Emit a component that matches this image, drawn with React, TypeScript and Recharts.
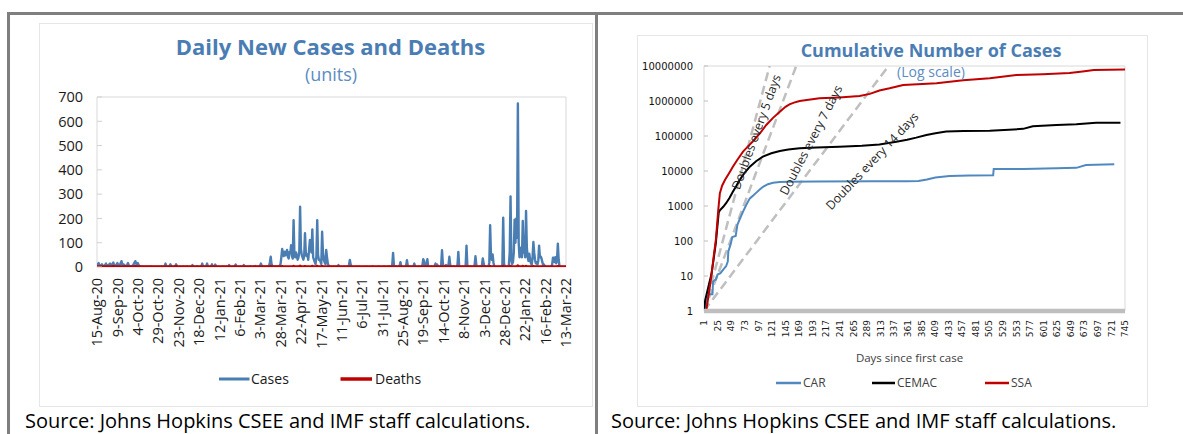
import React from 'react';
import { LineChart, Line, XAxis, YAxis, ReferenceArea } from 'recharts';

// ---------- Left chart: daily new cases and deaths (day 0 = 15-Aug-20) ----------
const dateTicks = ['15-Aug-20', '9-Sep-20', '4-Oct-20', '29-Oct-20', '23-Nov-20', '18-Dec-20', '12-Jan-21', '6-Feb-21', '3-Mar-21', '28-Mar-21', '22-Apr-21', '17-May-21', '11-Jun-21', '6-Jul-21', '31-Jul-21', '25-Aug-21', '19-Sep-21', '14-Oct-21', '8-Nov-21', '3-Dec-21', '28-Dec-21', '22-Jan-22', '16-Feb-22', '13-Mar-22'];
const dateTickDays = [0, 25, 50, 75, 100, 125, 150, 175, 200, 225, 250, 275, 300, 325, 350, 375, 400, 425, 450, 475, 500, 525, 550, 575];
const caseTicks = [0, 100, 200, 300, 400, 500, 600, 700];

const dailyCases = [
  5, 10, 16, 8, 4, 6, 11, 5, 3, 6, 9, 14, 6, 4, 8, 10, 14, 7, 5, 12, 18, 8, 4, 6, 10,
  16, 8, 4, 9, 15, 24, 12, 6, 10, 5, 3, 6, 9, 16, 7, 3, 2, 4, 3, 6, 12, 18, 24, 14, 8,
  16, 9, 4, 2, 1, 0, 2, 0, 1, 0, 0, 2, 0, 1, 0, 0, 3, 0, 1, 0, 0, 2, 0, 0, 1,
  0, 1, 0, 0, 2, 0, 0, 1, 3, 14, 4, 0, 0, 2, 5, 11, 3, 0, 0, 1, 0, 4, 11, 3, 0,
  0, 0, 1, 0, 0, 0, 3, 0, 0, 0, 1, 2, 0, 0, 0, 0, 2, 8, 2, 0, 0, 0, 1, 3, 0,
  0, 0, 1, 4, 14, 3, 0, 0, 1, 5, 14, 3, 0, 0, 1, 4, 11, 2, 0, 0, 10, 2, 0, 0, 1,
  0, 0, 0, 1, 0, 2, 0, 0, 0, 1, 0, 0, 8, 2, 0, 0, 0, 1, 0, 3, 10, 2, 0, 0, 0,
  0, 1, 0, 0, 0, 8, 2, 0, 0, 0, 1, 0, 0, 3, 0, 0, 0, 1, 0, 4, 0, 0, 0, 1, 3,
  5, 14, 4, 0, 1, 2, 0, 0, 1, 3, 0, 5, 20, 42, 12, 4, 2, 0, 1, 3, 0, 1, 2, 0, 6,
  12, 40, 74, 55, 45, 63, 48, 58, 70, 42, 35, 62, 58, 90, 45, 35, 193, 55, 40, 60, 45, 30, 40, 62, 248,
  75, 50, 40, 30, 45, 139, 60, 45, 50, 30, 70, 111, 75, 60, 155, 40, 30, 20, 12, 45, 193, 50, 30, 30, 22,
  12, 145, 60, 30, 20, 12, 70, 40, 15, 5, 2, 0, 1, 0, 0, 2, 0, 0, 1, 0, 2, 8, 2, 0, 0,
  0, 0, 0, 2, 0, 0, 1, 0, 0, 10, 29, 10, 2, 0, 0, 0, 0, 0, 1, 0, 0, 0, 2, 0, 0,
  0, 0, 0, 0, 0, 2, 0, 0, 0, 0, 0, 0, 0, 3, 0, 0, 0, 0, 0, 0, 2, 0, 0, 0, 0,
  0, 0, 2, 0, 0, 0, 0, 0, 3, 0, 0, 0, 10, 58, 8, 0, 0, 2, 0, 0, 0, 5, 20, 4, 0,
  0, 0, 0, 0, 6, 28, 5, 0, 0, 2, 0, 0, 0, 4, 14, 3, 0, 0, 0, 0, 2, 0, 0, 0, 8,
  32, 25, 6, 0, 10, 32, 5, 0, 0, 0, 2, 0, 0, 0, 6, 14, 4, 10, 2, 0, 0, 0, 10, 69, 15,
  0, 3, 0, 8, 2, 0, 10, 42, 10, 0, 0, 0, 3, 0, 0, 0, 0, 10, 62, 5, 0, 0, 0, 2, 0,
  0, 0, 8, 88, 10, 0, 0, 0, 3, 0, 0, 0, 0, 10, 44, 10, 0, 0, 0, 2, 0, 0, 8, 35, 15,
  0, 3, 0, 0, 0, 0, 20, 172, 50, 30, 52, 20, 3, 0, 0, 0, 0, 0, 0, 0, 0, 0, 10, 203, 15,
  0, 0, 0, 0, 0, 10, 60, 291, 30, 12, 20, 60, 195, 100, 200, 120, 673, 100, 40, 60, 80, 40, 190, 60, 70,
  40, 231, 80, 40, 25, 55, 30, 15, 10, 40, 103, 60, 30, 15, 20, 10, 25, 88, 40, 43, 35, 20, 8, 10, 3,
  0, 0, 0, 0, 0, 0, 0, 2, 10, 38, 38, 20, 40, 15, 30, 96, 30, 2, 0, 0, 0, 0, 0, 0, 0,
  0,
];

const dailyDeaths = [
  0, 0, 0, 0, 0, 0, 0, 0, 0, 0, 0, 0, 0, 0, 0, 0, 0, 0, 0, 0, 1, 0, 0, 0, 0,
  0, 0, 0, 0, 0, 0, 0, 0, 0, 0, 0, 0, 0, 0, 0, 0, 0, 0, 0, 0, 0, 0, 1, 0, 0,
  0, 0, 0, 0, 0, 0, 0, 0, 0, 0, 0, 0, 0, 0, 0, 0, 0, 0, 0, 0, 0, 0, 0, 0, 0,
  0, 0, 0, 0, 0, 0, 0, 0, 0, 0, 0, 0, 0, 0, 0, 0, 0, 0, 0, 0, 0, 0, 1, 0, 0,
  0, 0, 0, 0, 0, 0, 0, 0, 0, 0, 0, 0, 0, 0, 0, 0, 0, 0, 0, 0, 0, 0, 0, 0, 0,
  0, 0, 0, 0, 0, 0, 0, 0, 0, 0, 0, 0, 0, 0, 0, 0, 0, 0, 0, 0, 0, 0, 0, 0, 0,
  0, 0, 0, 0, 0, 0, 0, 0, 0, 0, 0, 0, 0, 0, 0, 0, 0, 0, 0, 0, 0, 0, 0, 0, 0,
  0, 0, 0, 0, 0, 0, 0, 0, 0, 0, 0, 0, 0, 0, 0, 0, 0, 0, 0, 0, 0, 0, 0, 0, 0,
  0, 0, 0, 0, 0, 0, 0, 0, 0, 0, 0, 0, 0, 1, 0, 0, 0, 0, 0, 0, 0, 0, 0, 0, 0,
  0, 0, 1, 0, 0, 0, 0, 0, 0, 0, 0, 0, 0, 0, 0, 0, 2, 0, 0, 0, 0, 0, 0, 0, 3,
  0, 0, 0, 0, 0, 1, 0, 0, 0, 0, 0, 0, 0, 0, 2, 0, 0, 0, 0, 0, 2, 0, 0, 0, 0,
  0, 1, 0, 0, 0, 0, 0, 0, 0, 0, 0, 0, 0, 0, 0, 0, 0, 0, 0, 0, 0, 0, 0, 0, 0,
  0, 0, 0, 0, 0, 0, 0, 0, 0, 0, 0, 0, 0, 0, 0, 0, 0, 0, 0, 0, 0, 0, 0, 0, 0,
  0, 0, 0, 0, 0, 0, 0, 0, 0, 0, 0, 0, 0, 0, 0, 0, 0, 0, 0, 0, 0, 0, 0, 0, 0,
  0, 0, 0, 0, 0, 0, 0, 0, 0, 0, 0, 0, 0, 0, 0, 0, 0, 0, 0, 0, 0, 0, 0, 0, 0,
  0, 0, 0, 0, 0, 0, 0, 0, 0, 0, 0, 0, 0, 0, 0, 0, 0, 0, 0, 0, 0, 0, 0, 0, 0,
  0, 0, 0, 0, 0, 0, 0, 0, 0, 0, 0, 0, 0, 0, 0, 0, 0, 0, 0, 0, 0, 0, 0, 0, 0,
  0, 0, 0, 0, 0, 0, 0, 0, 0, 0, 0, 0, 0, 0, 0, 0, 0, 0, 0, 0, 0, 0, 0, 0, 0,
  0, 0, 0, 0, 0, 0, 0, 0, 0, 0, 0, 0, 0, 0, 0, 0, 0, 0, 0, 0, 0, 0, 0, 0, 0,
  0, 0, 0, 0, 0, 0, 0, 1, 0, 0, 0, 0, 0, 0, 0, 0, 0, 0, 0, 0, 0, 0, 0, 2, 0,
  0, 0, 0, 0, 0, 0, 0, 2, 0, 0, 0, 0, 0, 0, 0, 0, 4, 0, 0, 0, 0, 0, 2, 0, 0,
  0, 2, 0, 0, 0, 0, 0, 0, 0, 0, 1, 0, 0, 0, 0, 0, 0, 0, 0, 0, 0, 0, 0, 0, 0,
  0, 0, 0, 0, 0, 0, 0, 0, 0, 0, 0, 0, 0, 0, 0, 1, 0, 0, 0, 0, 0, 0, 0, 0, 0,
  0,
];

// ---------- Right chart: cumulative cases (log scale), days since first case ----------
const dayTicks = [1, 25, 49, 73, 97, 121, 145, 169, 193, 217, 241, 265, 289, 313, 337, 361, 385, 409, 433, 457, 481, 505, 529, 553, 577, 601, 625, 649, 673, 697, 721, 745];
const logTicks = [1, 10, 100, 1000, 10000, 100000, 1000000, 10000000];

const carDay = [1, 9, 16, 17, 22, 25, 30, 36, 40, 43, 44, 48, 51, 57, 60, 65, 70, 76, 82, 88, 94, 100, 106, 114, 123, 135, 150, 200, 300, 360, 380, 395, 410, 435, 470, 512, 513, 565, 624, 659, 676, 726];
const carCases = [1, 3, 3, 7, 8, 11, 12, 16, 19, 26, 50, 80, 130, 140, 290, 450, 690, 1100, 1650, 2000, 2450, 3000, 3600, 4200, 4630, 4850, 4970, 5000, 5100, 5100, 5150, 5700, 6500, 7200, 7400, 7500, 11400, 11400, 11900, 12300, 14800, 15500];

const cemacDay = [1, 3, 10, 14, 18, 22, 24, 27, 29, 35, 40, 46, 52, 58, 64, 72, 82, 93, 105, 120, 135, 150, 170, 200, 240, 280, 311, 341, 360, 376, 394, 410, 429, 460, 506, 540, 565, 582, 624, 659, 694, 737];
const cemacCases = [1, 2, 6, 11, 30, 90, 200, 650, 750, 950, 1200, 1700, 2560, 3700, 5500, 8500, 13300, 19000, 25700, 32000, 37300, 41000, 44500, 47000, 49500, 53000, 57500, 69000, 78000, 89700, 107000, 120000, 135000, 138000, 141000, 150000, 160000, 190000, 206000, 216000, 238000, 240000];

const ssaDay = [5, 14, 18, 22, 26, 29, 33, 38, 45, 52, 60, 70, 80, 88, 100, 111, 123, 135, 145, 152, 160, 170, 205, 240, 276, 294, 311, 329, 353, 412, 459, 506, 553, 600, 647, 670, 690, 745];
const ssaCases = [1, 10, 35, 110, 700, 2300, 3800, 5500, 8500, 13300, 21000, 35700, 53000, 72000, 120000, 206000, 330000, 493000, 680000, 800000, 900000, 1000000, 1200000, 1250000, 1400000, 1600000, 2000000, 2300000, 2870000, 3200000, 3900000, 4500000, 5500000, 5850000, 6300000, 7000000, 7700000, 8000000];

// Doubling reference lines: start at 1 on day 1, reach the top of the axis
const double5Day = [1, 117];
const double7Day = [1, 164];
const double14Day = [1, 327];
const doubleValues = [1, 10000000];

const leftData = dailyCases.map((c, i) => ({ day: i, cases: c, deaths: dailyDeaths[i] }));
const toSeries = (days: number[], vals: number[]) => days.map((d, i) => ({ day: d, v: vals[i] }));
const carData = toSeries(carDay, carCases);
const cemacData = toSeries(cemacDay, cemacCases);
const ssaData = toSeries(ssaDay, ssaCases);
const d5Data = toSeries(double5Day, doubleValues);
const d7Data = toSeries(double7Day, doubleValues);
const d14Data = toSeries(double14Day, doubleValues);

const FONT = "'Open Sans', sans-serif";
const TITLE_BLUE = '#4a7db4';
const SUB_BLUE = '#5b8cc3';
const CASES_BLUE = '#4a7eb3';
const CAR_BLUE = '#5089bf';
const RED = '#c00000';

const LeftXTick = (props: any) => {
  const { x, y, payload } = props;
  const idx = dateTickDays.indexOf(payload.value);
  return (
    <text x={x} y={y} transform={`rotate(-90 ${x} ${y})`} textAnchor="end" dy="0.36em" fontSize={14.5} fontFamily={FONT} fill="#1a1a1a">
      {dateTicks[idx]}
    </text>
  );
};

const LeftYTick = (props: any) => {
  const { x, y, payload } = props;
  return (
    <g>
      <line x1={x + 14} x2={x + 19} y1={y} y2={y} stroke="#d0d0d0" strokeWidth={1} />
      <text x={x} y={y} textAnchor="end" dy="0.36em" fontSize={14.5} fontFamily={FONT} fill="#1a1a1a">
        {payload.value}
      </text>
    </g>
  );
};

const RightXTick = (props: any) => {
  const { x, y, payload } = props;
  return (
    <text x={x} y={y} transform={`rotate(-90 ${x} ${y})`} textAnchor="end" dy="0.36em" fontSize={9} fontFamily="'DejaVu Sans', sans-serif" fill="#1a1a1a">
      {payload.value}
    </text>
  );
};

const RightYTick = (props: any) => {
  const { x, y, payload } = props;
  return (
    <g>
      <line x1={x + 11} x2={x + 15} y1={y} y2={y} stroke="#bfbfbf" strokeWidth={1} />
      <text x={x} y={y} textAnchor="end" dy="0.36em" fontSize={10} fontFamily="'DejaVu Sans', sans-serif" fill="#111">
        {String(payload.value)}
      </text>
    </g>
  );
};

const abs = (l: number, t: number, w: number, h: number, extra: React.CSSProperties = {}): React.CSSProperties => ({
  position: 'absolute', left: l, top: t, width: w, height: h, ...extra,
});

export default function App() {
  return (
    <div style={{ position: 'absolute', left: 0, top: 0, width: 1183, height: 434, background: '#fff', overflow: 'hidden', fontFamily: FONT }}>
      {/* frame */}
      <div style={abs(7, 12, 1176, 3, { background: '#7f7f7f' })} />
      <div style={abs(7, 12, 3, 422, { background: '#7f7f7f' })} />
      <div style={abs(595, 12, 3, 422, { background: '#7f7f7f' })} />
      <div style={abs(39, 23, 554, 384, { border: '1px solid #e6e6e6', boxSizing: 'border-box' })} />
      <div style={abs(637, 35, 511, 372, { border: '1px solid #e6e6e6', boxSizing: 'border-box' })} />

      {/* left chart */}
      <div style={abs(0, 0, 600, 434)}>
        <LineChart width={600} height={434} data={leftData} margin={{ top: 97, right: 34, bottom: 87, left: 57 }}>
          <XAxis dataKey="day" type="number" domain={[0, 575]} ticks={dateTickDays} interval={0} allowDataOverflow
            axisLine={false} tickLine={false} tickSize={0} tickMargin={11} height={80} tick={<LeftXTick />} />
          <YAxis type="number" domain={[0, 700]} ticks={caseTicks} interval={0} allowDataOverflow
            axisLine={false} tickLine={false} tickSize={0} tickMargin={14} width={40} tick={<LeftYTick />} />
          <ReferenceArea x1={0} x2={575} y1={0} y2={700} fill="none" stroke="#d9d9d9" strokeWidth={1} ifOverflow="visible" />
          <Line dataKey="cases" type="linear" stroke={CASES_BLUE} strokeWidth={2.4} dot={false} activeDot={false} isAnimationActive={false} strokeLinejoin="round" />
          <Line dataKey="deaths" type="linear" stroke={RED} strokeWidth={3.5} dot={false} activeDot={false} isAnimationActive={false} strokeLinejoin="round" />
        </LineChart>
      </div>

      {/* right chart */}
      <div style={abs(600, 0, 560, 434)}>
        <LineChart width={560} height={434} margin={{ top: 66, right: 35, bottom: 83, left: 44 }}>
          <XAxis dataKey="day" type="number" domain={[1, 745]} ticks={dayTicks} interval={0} allowDataOverflow
            axisLine={{ stroke: '#bfbfbf', strokeWidth: 4.5 }} tickLine={false} tickSize={0} tickMargin={9} height={40} tick={<RightXTick />} />
          <YAxis type="number" scale="log" domain={[1, 10000000]} ticks={logTicks} interval={0} allowDataOverflow
            axisLine={false} tickLine={false} tickSize={0} tickMargin={11} width={60} tick={<RightYTick />} />
          <ReferenceArea x1={1} x2={745} y1={1} y2={10000000} fill="none" stroke="#d9d9d9" strokeWidth={1} ifOverflow="visible" />
          <Line data={d5Data} dataKey="v" type="linear" stroke="#bfbfbf" strokeWidth={2.5} strokeDasharray="9 5" dot={false} activeDot={false} isAnimationActive={false} />
          <Line data={d7Data} dataKey="v" type="linear" stroke="#bfbfbf" strokeWidth={2.5} strokeDasharray="9 5" dot={false} activeDot={false} isAnimationActive={false} />
          <Line data={d14Data} dataKey="v" type="linear" stroke="#bfbfbf" strokeWidth={2.5} strokeDasharray="9 5" dot={false} activeDot={false} isAnimationActive={false} />
          <Line data={carData} dataKey="v" type="linear" stroke={CAR_BLUE} strokeWidth={2} dot={false} activeDot={false} isAnimationActive={false} />
          <Line data={cemacData} dataKey="v" type="linear" stroke="#000" strokeWidth={2} dot={false} activeDot={false} isAnimationActive={false} />
          <Line data={ssaData} dataKey="v" type="linear" stroke={RED} strokeWidth={2} dot={false} activeDot={false} isAnimationActive={false} />
        </LineChart>
      </div>

      {/* texts */}
      <svg width={1183} height={434} style={{ position: 'absolute', left: 0, top: 0, pointerEvents: 'none' }} fontFamily={FONT}>
        <text x={330.5} y={55} textAnchor="middle" fontSize={22} fontWeight="bold" fill={TITLE_BLUE}>Daily New Cases and Deaths</text>
        <text x={331} y={81} textAnchor="middle" fontSize={18} fill={SUB_BLUE}>(units)</text>

        <line x1={219} x2={249.5} y1={379} y2={379} stroke={CASES_BLUE} strokeWidth={3} />
        <text x={251} y={384} fontSize={14} fill="#1a1a1a">Cases</text>
        <line x1={340.5} x2={372} y1={379} y2={379} stroke={RED} strokeWidth={3.5} />
        <text x={375} y={384} fontSize={14} fill="#1a1a1a">Deaths</text>

        <text x={25} y={428} fontSize={20} fill="#000">Source: Johns Hopkins CSEE and IMF staff calculations.</text>

        <text x={931} y={57} textAnchor="middle" fontSize={18} fontWeight="bold" fill={TITLE_BLUE}>Cumulative Number of Cases</text>
        <text x={931} y={77} textAnchor="middle" fontSize={14} fill={SUB_BLUE}>(Log scale)</text>

        <text x={756} y={132} transform="rotate(-70 756 132)" textAnchor="middle" dy="0.36em" fontSize={12.3} fill="#262626">Doubles every 5 days</text>
        <text x={811} y={140} transform="rotate(-62.7 811 140)" textAnchor="middle" dy="0.36em" fontSize={12.3} fill="#262626">Doubles every 7 days</text>
        <text x={872} y={161} transform="rotate(-46.7 872 161)" textAnchor="middle" dy="0.36em" fontSize={12.3} fill="#262626">Doubles every 14 days</text>

        <text x={909.5} y={362} textAnchor="middle" fontSize={11.5} fill="#404040">Days since first case</text>

        <line x1={776} x2={801} y1={383} y2={383} stroke={CAR_BLUE} strokeWidth={2.5} />
        <text x={803} y={387} fontSize={12} fill="#404040">CAR</text>
        <line x1={872} x2={895} y1={383} y2={383} stroke="#000" strokeWidth={2.5} />
        <text x={897} y={387} fontSize={12} fill="#404040">CEMAC</text>
        <line x1={985} x2={1009} y1={383} y2={383} stroke={RED} strokeWidth={2.5} />
        <text x={1011} y={387} fontSize={12} fill="#404040">SSA</text>

        <text x={611} y={428} fontSize={20} fill="#000">Source: Johns Hopkins CSEE and IMF staff calculations.</text>
      </svg>
    </div>
  );
}
